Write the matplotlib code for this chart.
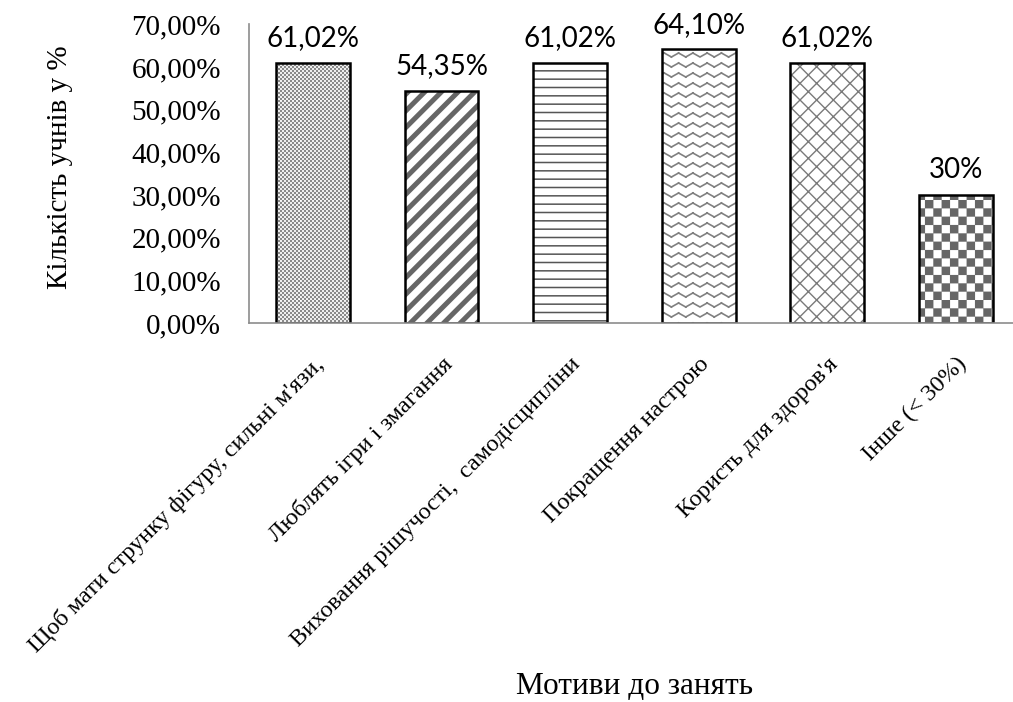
import warnings

import numpy as np
import matplotlib
matplotlib.use("Agg")
import matplotlib.pyplot as plt
from matplotlib import hatch as mhatch
from matplotlib.path import Path
from matplotlib.ticker import FuncFormatter

warnings.filterwarnings("ignore")

categories = [
    "Щоб мати струнку фігуру, сильні м'язи,",
    "Люблять ігри і змагання",
    "Виховання рішучості,  самодісципліни",
    "Покращення настрою",
    "Користь для здоров'я",
    "Інше (< 30%)",
]
values = [61.02, 54.35, 61.02, 64.10, 61.02, 30.0]
value_labels = ["61,02%", "54,35%", "61,02%", "64,10%", "61,02%", "30%"]
y_ticks = [0, 10, 20, 30, 40, 50, 60, 70]


class CheckerHatch(mhatch.HatchPatternBase):
    """Checkerboard fill: 'c' coarse, 'k' fine."""

    def __init__(self, hatch, density):
        if 'c' in hatch:
            self.num_cells = 12
        elif 'k' in hatch:
            self.num_cells = 50
        else:
            self.num_cells = 0
        self.num_vertices = (self.num_cells ** 2 // 2) * 5

    def set_vertices_and_codes(self, vertices, codes):
        n = self.num_cells
        s = 1.0 / n
        square = np.array([[0, 0], [s, 0], [s, s], [0, s], [0, 0]])
        sq_codes = [Path.MOVETO, Path.LINETO, Path.LINETO, Path.LINETO,
                    Path.CLOSEPOLY]
        i = 0
        for r in range(n):
            for c in range(n):
                if (r + c) % 2 == 0:
                    vertices[i:i + 5] = square + [c * s, r * s]
                    codes[i:i + 5] = sq_codes
                    i += 5


class WaveHatch(mhatch.HatchPatternBase):
    """Zigzag rows: 'w'."""

    def __init__(self, hatch, density):
        self.num_rows = 10 if 'w' in hatch else 0
        self.num_waves = 7
        self.num_vertices = self.num_rows * self.num_waves * 4

    def set_vertices_and_codes(self, vertices, codes):
        xs = np.linspace(0, 1, 2 * self.num_waves + 1)
        amp = 0.4 / max(self.num_rows, 1)
        i = 0
        for r in range(self.num_rows):
            y0 = (r + 0.3) / self.num_rows
            ys = y0 + amp * (np.arange(len(xs)) % 2)
            for k in range(len(xs) - 1):
                vertices[i] = (xs[k], ys[k])
                vertices[i + 1] = (xs[k + 1], ys[k + 1])
                codes[i] = Path.MOVETO
                codes[i + 1] = Path.LINETO
                i += 2


mhatch._hatch_types.append(CheckerHatch)
mhatch._hatch_types.append(WaveHatch)

# hatch, hatch colour, hatch line width for each bar
hatches = ['k', '//', '--', 'w', 'xx', 'c']
hatch_colors = ['#8a8a8a', '#666666', '#555555', '#808080', '#7a7a7a',
                '#666666']
hatch_lws = [0.1, 3.6, 1.1, 1.2, 1.0, 0.1]

serif = 'Liberation Serif'

fig = plt.figure(figsize=(10.13, 7.02), dpi=100)
ax = fig.add_axes([0.2455, 0.5399, 0.7614, 0.4255])

x = np.arange(len(categories))
width = 0.575
for i in range(len(categories)):
    with plt.rc_context({'hatch.linewidth': hatch_lws[i]}):
        bars = ax.bar(x[i], values[i], width=width, color='white',
                      edgecolor=hatch_colors[i], linewidth=0,
                      hatch=hatches[i])
    for b in bars:
        if hasattr(b, 'set_hatch_linewidth'):
            b.set_hatch_linewidth(hatch_lws[i])
ax.bar(x, values, width=width, fill=False, edgecolor='black', linewidth=1.8)

for xi, v, lab in zip(x, values, value_labels):
    ax.annotate(lab, xy=(xi, v), xytext=(0, 12), textcoords='offset points',
                ha='center', va='baseline', fontsize=20, family='Lato')

ax.set_xlim(-0.5, len(categories) - 0.5)
ax.set_ylim(0, 70)
ax.set_yticks(y_ticks)
ax.yaxis.set_major_formatter(
    FuncFormatter(lambda v, p: f"{v:.2f}".replace('.', ',') + "%"))
ax.set_xticks(x)
ax.set_xticklabels(categories, rotation=45, ha='right', va='top',
                   rotation_mode='anchor', family=serif, fontsize=17.5)
for lab in ax.get_yticklabels():
    lab.set_family(serif)
    lab.set_fontsize(21)
ax.tick_params(axis='y', length=0, pad=20)
ax.tick_params(axis='x', length=0, pad=22)

for side in ['top', 'right']:
    ax.spines[side].set_visible(False)
for side in ['left', 'bottom']:
    ax.spines[side].set_color('#8c8c8c')
    ax.spines[side].set_linewidth(1.2)

ax.set_ylabel("Кількість учнів у %", family=serif, fontsize=21)
ax.yaxis.set_label_coords(-0.228, 0.52)
ax.set_xlabel("Мотиви до занять", family=serif, fontsize=22.5)
ax.xaxis.set_label_coords(0.5, -1.17)

fig.savefig("out.png", dpi=100)
